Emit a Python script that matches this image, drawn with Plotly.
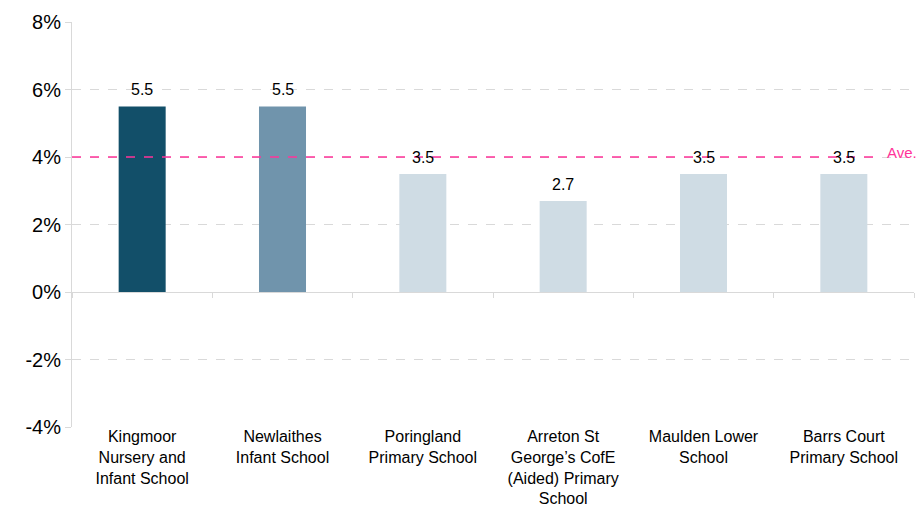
import plotly.graph_objects as go

schools = [
    "Kingmoor<br>Nursery and<br>Infant School",
    "Newlaithes<br>Infant School",
    "Poringland<br>Primary School",
    "Arreton St<br>George’s CofE<br>(Aided) Primary<br>School",
    "Maulden Lower<br>School",
    "Barrs Court<br>Primary School",
]
values = [5.5, 5.5, 3.5, 2.7, 3.5, 3.5]
bar_colors = ["#124f69", "#7094ac", "#cfdce4", "#cfdce4", "#cfdce4", "#cfdce4"]
average = 4.0
avg_label = "Ave."
y_ticks = [-4, -2, 0, 2, 4, 6, 8]

FONT = "Liberation Sans, Arial, sans-serif"
GRID = "#d9d9d9"

fig = go.Figure()
fig.add_trace(go.Bar(
    x=schools, y=values,
    marker=dict(color=bar_colors, line=dict(width=0)),
    width=0.335,
    hoverinfo="skip",
))
# invisible trace on a second x axis used to draw the zero-line category ticks
fig.add_trace(go.Scatter(
    x=schools, y=values, xaxis="x2", mode="markers",
    marker=dict(opacity=0), hoverinfo="skip", showlegend=False,
))

for s, v in zip(schools, values):
    fig.add_annotation(x=s, y=v, xref="x", yref="y", text=f"{v:.1f}",
                       showarrow=False, yanchor="bottom", yshift=6,
                       font=dict(size=16, color="#000000", family=FONT))

fig.add_shape(type="line", xref="paper", yref="y",
              x0=0, x1=0.96, y0=average, y1=average,
              line=dict(color="#ff3399", width=1.3, dash="dash"))
fig.add_annotation(xref="paper", yref="y", x=0.966, y=average,
                   text=avg_label, showarrow=False, xanchor="left",
                   yanchor="middle", yshift=5,
                   font=dict(size=15, color="#ff3399", family=FONT))

fig.update_layout(
    width=916, height=499,
    margin=dict(l=64, r=10, t=14, b=80, autoexpand=False),
    paper_bgcolor="white", plot_bgcolor="white",
    showlegend=False,
    font=dict(family=FONT, color="#000000"),
    xaxis=dict(
        type="category", automargin=False,
        showgrid=False, showline=False, ticks="", zeroline=False,
        tickfont=dict(size=16, family=FONT, color="#000000"),
        ticklabelstandoff=-2,
        range=[-0.5, 5.5],
    ),
    xaxis2=dict(
        type="category", overlaying="x", anchor="free", position=4 / 12,
        side="bottom", automargin=False,
        range=[-0.5, 5.5],
        showgrid=False, showline=True, linecolor=GRID, linewidth=1,
        ticks="outside", tickson="boundaries", ticklen=5, tickcolor=GRID,
        showticklabels=False,
    ),
    yaxis=dict(
        range=[-4, 8], tickvals=y_ticks, automargin=False,
        ticktext=[f"{t}%" for t in y_ticks],
        showgrid=True, gridcolor=GRID, griddash="dash", gridwidth=1,
        zeroline=False,
        showline=True, linecolor=GRID, linewidth=1,
        ticks="outside", ticklen=6, tickcolor=GRID,
        tickfont=dict(size=20, family=FONT, color="#000000"),
    ),
)

fig.write_html("out.html")
